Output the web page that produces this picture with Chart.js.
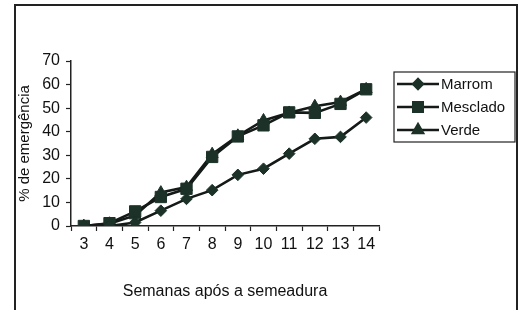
<!DOCTYPE html>
<html>
<head>
<meta charset="utf-8">
<script src="https://cdn.jsdelivr.net/npm/chart.js@4.4.1/dist/chart.umd.min.js"></script>
<style>
    html, body { margin: 0; padding: 0; background: #fff; overflow: hidden; }
    #wrap { position: relative; width: 524px; height: 310px; }
    #frame {
        position: absolute; left: 14px; top: 4px; width: 500px; height: 330px;
        border: 2px solid #222; border-bottom: none;
    }
    canvas { position: absolute; left: 0; top: 0; }
</style>
</head>
<body>
<div id="wrap">
    <div id="frame"></div>
    <canvas id="chart" width="524" height="310"></canvas>
</div>
<script>
// Data
const semanas = ['3', '4', '5', '6', '7', '8', '9', '10', '11', '12', '13', '14'];
const marrom = [0, 0, 1.5, 6.5, 11.5, 15.2, 21.7, 24.3, 30.7, 37, 37.8, 46];
const mesclado = [0, 1.2, 6.2, 12.3, 15.8, 29.3, 38, 42.7, 48.2, 48, 51.8, 58];
const verde = [0, 1, 4.5, 14.2, 16.5, 30.5, 38.3, 44.8, 48, 50.8, 52.6, 58];
const yTicks = [0, 10, 20, 30, 40, 50, 60, 70];

const font = "'Liberation Sans', Arial, sans-serif";
const lineColor = '#141a17';
const markColor = '#1c3228';

// Legend drawn as a boxed key like the original
const boxedLegend = {
    id: 'boxedLegend',
    afterDraw(chart) {
        const ctx = chart.ctx;
        const x0 = 394, y0 = 72, w = 121, h = 70;
        ctx.save();
        ctx.fillStyle = '#fff';
        ctx.fillRect(x0, y0, w, h);
        ctx.strokeStyle = '#222';
        ctx.lineWidth = 1.2;
        ctx.strokeRect(x0, y0, w, h);
        chart.data.datasets.forEach((ds, i) => {
            const y = 84 + i * 23;
            ctx.strokeStyle = ds.borderColor;
            ctx.lineWidth = 2.4;
            ctx.beginPath();
            ctx.moveTo(397, y);
            ctx.lineTo(439, y);
            ctx.stroke();
            ctx.fillStyle = ds.pointBackgroundColor;
            ctx.strokeStyle = ds.pointBorderColor;
            Chart.helpers.drawPoint(ctx, {
                pointStyle: ds.pointStyle,
                radius: ds.pointRadius * 0.85,
                borderWidth: 1
            }, 418, y);
            ctx.fillStyle = '#111';
            ctx.font = '15px ' + font;
            ctx.textBaseline = 'middle';
            ctx.textAlign = 'left';
            ctx.fillText(ds.label, 441, y + 1);
        });
        ctx.restore();
    }
};

const ctx = document.getElementById('chart').getContext('2d');
const chart = new Chart(ctx, {
    type: 'line',
    data: {
        labels: semanas,
        datasets: [
            {
                label: 'Marrom',
                data: marrom,
                borderColor: lineColor,
                borderWidth: 2.6,
                pointStyle: 'rectRot',
                pointRadius: 5.8,
                pointBackgroundColor: markColor,
                pointBorderColor: markColor,
                pointBorderWidth: 1
            },
            {
                label: 'Mesclado',
                data: mesclado,
                borderColor: lineColor,
                borderWidth: 2.6,
                pointStyle: 'rect',
                pointRadius: 8,
                pointBackgroundColor: markColor,
                pointBorderColor: markColor,
                pointBorderWidth: 1
            },
            {
                label: 'Verde',
                data: verde,
                borderColor: lineColor,
                borderWidth: 2.6,
                pointStyle: 'triangle',
                pointRadius: 6.9,
                pointBackgroundColor: markColor,
                pointBorderColor: markColor,
                pointBorderWidth: 1
            }
        ]
    },
    options: {
        responsive: false,
        animation: false,
        events: [],
        layout: { padding: { left: 16, right: 145, top: 61, bottom: 0 } },
        plugins: {
            legend: { display: false },
            tooltip: { enabled: false }
        },
        scales: {
            x: {
                offset: true,
                grid: {
                    offset: true,
                    drawOnChartArea: false,
                    tickLength: 5,
                    tickColor: '#222',
                    tickWidth: 1.2
                },
                border: { color: '#222', width: 1.5 },
                ticks: {
                    color: '#111',
                    font: { family: font, size: 16 },
                    padding: 4,
                    maxRotation: 0
                },
                title: {
                    display: true,
                    text: 'Semanas após a semeadura',
                    color: '#111',
                    font: { family: font, size: 16 },
                    padding: { top: 14, bottom: 9 }
                },
                afterFit(scale) { scale.height = 84; }
            },
            y: {
                min: 0,
                max: 70,
                afterBuildTicks(scale) {
                    scale.ticks = yTicks.map(v => ({ value: v }));
                },
                grid: {
                    drawOnChartArea: false,
                    tickLength: 5,
                    tickColor: '#222',
                    tickWidth: 1.2
                },
                border: { color: '#222', width: 1.5 },
                ticks: {
                    color: '#111',
                    font: { family: font, size: 16 },
                    padding: 6
                },
                title: {
                    display: true,
                    text: '% de emergência',
                    color: '#111',
                    font: { family: font, size: 15 },
                    padding: { top: 0, bottom: 2 }
                },
                afterFit(scale) { scale.width = 55; }
            }
        }
    },
    plugins: [boxedLegend]
});
</script>
</body>
</html>
